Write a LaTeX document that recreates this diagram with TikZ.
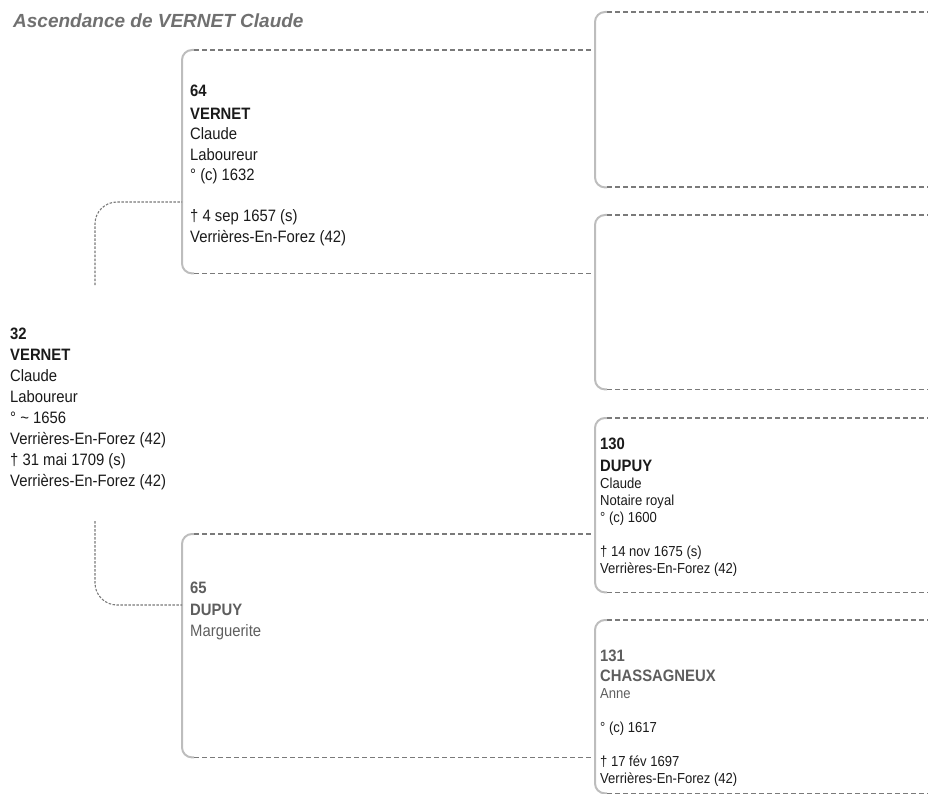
\documentclass[tikz,border=0pt]{standalone}
\usepackage{fontspec}
\setmainfont{Liberation Sans}
\newfontfamily\fichefont{Liberation Sans}[FakeStretch=0.9]
\usetikzlibrary{calc}
\definecolor{encre}{HTML}{1A1A1A}
\definecolor{grisnom}{HTML}{5E5E5E}
\definecolor{gristitre}{HTML}{707070}
\definecolor{crochet}{HTML}{BDBDBD}
\definecolor{tiret}{HTML}{7A7A7A}
\newcommand{\gras}[1]{{\fontsize{16.5}{17}\selectfont\bfseries #1}}

\begin{document}
\begin{tikzpicture}[x=1pt,y=-1pt,
    fiche/.style={anchor=north west,inner sep=0pt,align=left,text=encre,
      font=\fichefont\fontsize{16.5}{21}\selectfont},
    petite/.style={font=\fichefont\fontsize{14.5}{17}\selectfont},
    cadre/.style={inner sep=0pt,anchor=north west},
    bord/.style={draw=crochet,line width=2pt,rounded corners=10pt},
    ligne/.style={draw=tiret,line width=1.8pt,dash pattern=on 4.5pt off 3.5pt},
    lien/.style={draw=tiret,line width=1.1pt,dash pattern=on 2.5pt off 1.5pt,rounded corners=22pt}]
  \useasboundingbox (0,0) rectangle (928,794);

  \node[anchor=base west,inner sep=0pt,text=gristitre,
    font=\bfseries\itshape\fontsize{19}{22}\selectfont] (titre) at (13,27.5)
    {Ascendance de VERNET Claude};

  % cadres
  \node[cadre,minimum width=413pt,minimum height=223pt] (b64) at (182,50) {};
  \node[cadre,minimum width=413pt,minimum height=223pt] (b65) at (182,534) {};
  \node[cadre,minimum width=333pt,minimum height=175pt] (b128) at (595,12) {};
  \node[cadre,minimum width=333pt,minimum height=174pt] (b129) at (595,215) {};
  \node[cadre,minimum width=333pt,minimum height=174pt] (b130) at (595,418) {};
  \node[cadre,minimum width=333pt,minimum height=173pt] (b131) at (595,620) {};

  \foreach \b in {b64,b65,b128,b129,b130,b131} {
    \draw[bord] ($(\b.north west)+(12,0)$) -- (\b.north west)
      -- (\b.south west) -- ($(\b.south west)+(12,0)$);
    \draw[ligne] ($(\b.north west)+(12,0)$) -- (\b.north east);
    \draw[ligne] ($(\b.south west)+(12,0)$) -- (\b.south east);
  }

  % liens depuis 32
  \coordinate (p32 haut) at (95,285);
  \coordinate (p32 bas) at (95,521);
  \coordinate (e64) at ($(b64.north west)+(0,152)$);
  \coordinate (e65) at ($(b65.north west)+(0,71)$);
  \draw[lien] (p32 haut) |- (e64);
  \draw[lien] (p32 bas) |- (e65);

  % personnes
  \node[fiche] (p32) at (10,328)
    {\textbf{32}\\\textbf{VERNET}\\Claude\\Laboureur\\° \textasciitilde\ 1656\\
     Verrières-En-Forez (42)\\† 31 mai 1709 (s)\\Verrières-En-Forez (42)};
  \node[fiche,font=\fichefont\fontsize{16.5}{20.5}\selectfont] (p64) at (190,85)
    {\textbf{64}\\[2pt]\textbf{VERNET}\\Claude\\Laboureur\\° (c) 1632\\[20.5pt]
     † 4 sep 1657 (s)\\Verrières-En-Forez (42)};
  \node[fiche,text=grisnom,font=\fichefont\fontsize{16.5}{21.5}\selectfont] (p65) at (190,582)
    {\textbf{65}\\\textbf{DUPUY}\\Marguerite};
  \node[fiche,petite] (p130) at (600,438)
    {\gras{130}\\[5pt]\gras{DUPUY}\\Claude\\Notaire royal\\° (c) 1600\\[17pt]
     † 14 nov 1675 (s)\\Verrières-En-Forez (42)};
  \node[fiche,petite] (p131) at (600,650)
    {\textcolor{grisnom}{\gras{131}}\\[3pt]\textcolor{grisnom}{\gras{CHASSAGNEUX}}\\
     \textcolor{grisnom}{Anne}\\[17pt]° (c) 1617\\[17pt]† 17 fév 1697\\Verrières-En-Forez (42)};
\end{tikzpicture}
\end{document}
